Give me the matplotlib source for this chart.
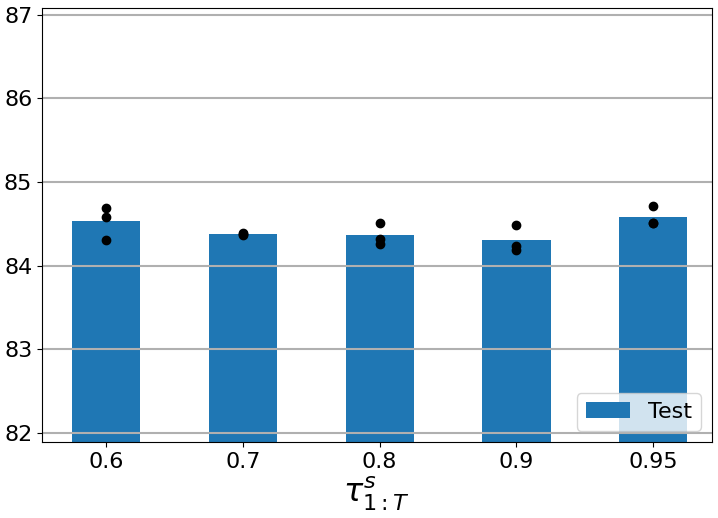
import matplotlib.pyplot as plt
import numpy as np

# tau values and test accuracy per run
labels = ["0.6", "0.7", "0.8", "0.9", "0.95"]
run_1 = [84.69, 84.39, 84.51, 84.49, 84.715]
run_2 = [84.58, 84.38, 84.32, 84.23, 84.51]
run_3 = [84.31, 84.37, 84.26, 84.19, 84.51]

runs = np.array([run_1, run_2, run_3])
means = runs.mean(axis=0)
x = np.arange(len(labels))

fig = plt.figure(figsize=(7.18, 5.18), dpi=100)
ax = fig.add_axes([0.0585, 0.1467, 0.933, 0.838])

ax.bar(x, means, width=0.5, color="#1f77b4", label="Test")
for r in runs:
    ax.plot(x, r, "o", color="black", markersize=6, zorder=3)

ax.set_xticks(x)
ax.set_xticklabels(labels)
ax.set_xlim(-0.47, 4.43)
ax.set_ylim(81.89, 87.08)
ax.set_yticks([82, 83, 84, 85, 86, 87])
ax.tick_params(labelsize=16)
ax.yaxis.grid(True, color="#b0b0b0", linewidth=1.5)
ax.set_xlabel(r"$\tau^s_{1:T}$", fontsize=23, labelpad=2)
ax.legend(loc="lower right", fontsize=16)

fig.savefig("out.png")
